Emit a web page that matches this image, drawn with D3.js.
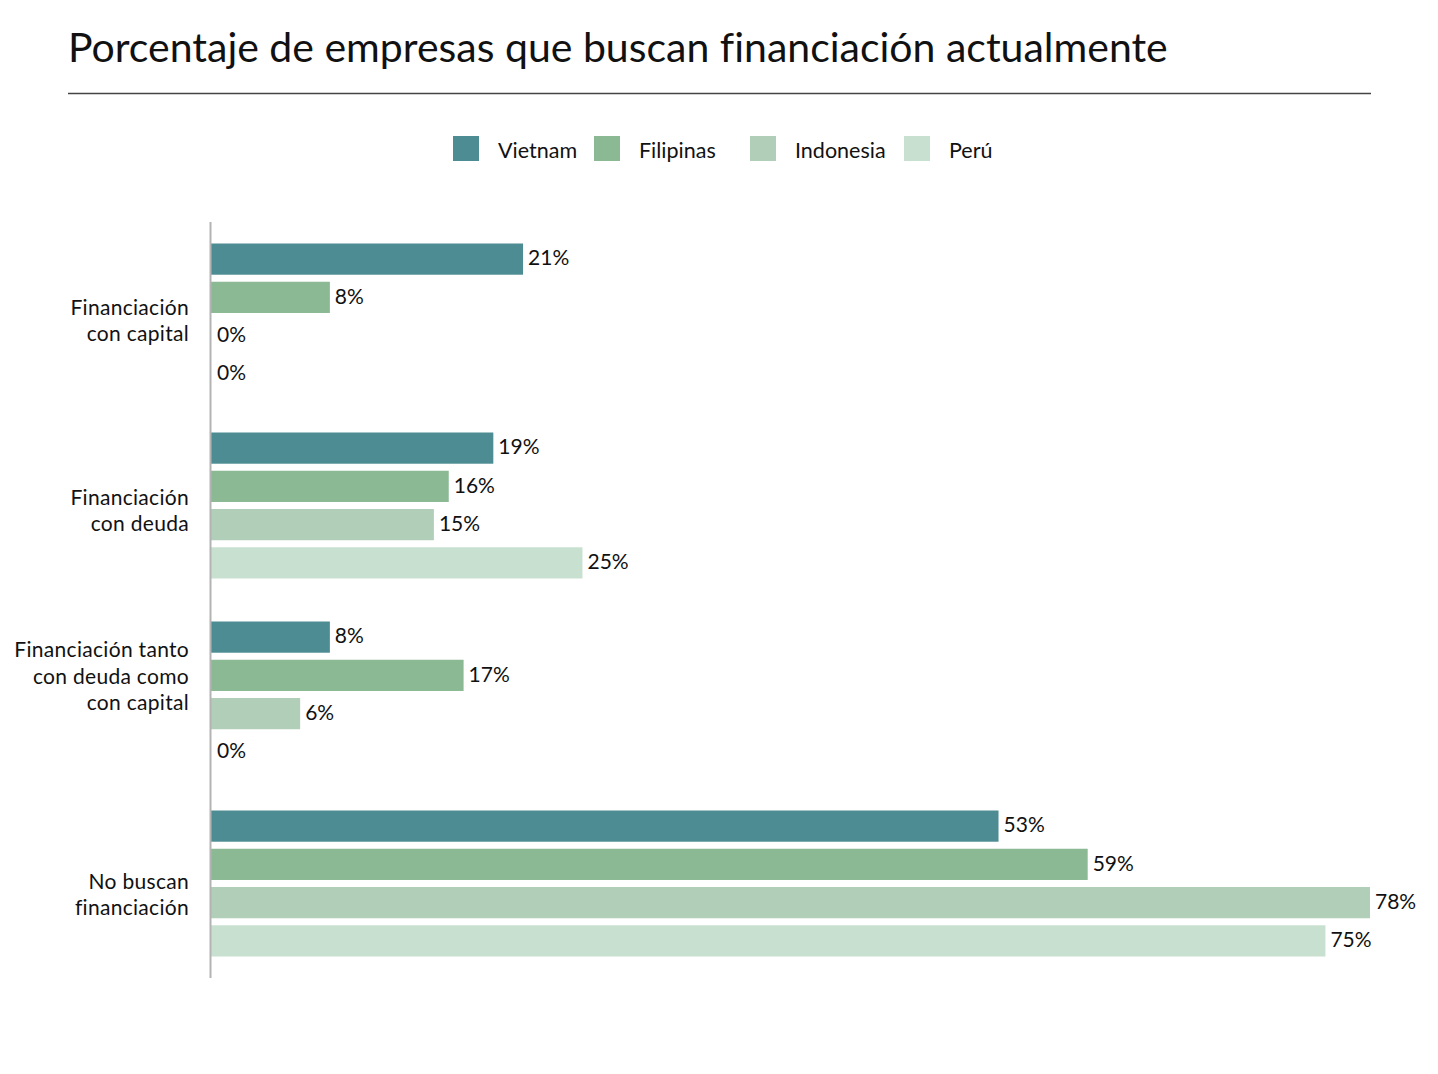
<!DOCTYPE html>
<html><head><meta charset="utf-8">
<script src="https://cdn.jsdelivr.net/npm/d3@7"></script>
<style>body{margin:0;background:#fff;} text{font-family:Lato,"Open Sans",sans-serif;fill:#111;font-variant-ligatures:none;}</style>
</head><body><svg id="c" width="1438" height="1074"></svg>
<script>
const title = "Porcentaje de empresas que buscan financiación actualmente";
const categories = ["Financiación con capital","Financiación con deuda","Financiación tanto con deuda como con capital","No buscan financiación"];
const categoryLines = [["Financiación","con capital"],["Financiación","con deuda"],["Financiación tanto","con deuda como","con capital"],["No buscan","financiación"]];
const series = ["Vietnam","Filipinas","Indonesia","Perú"];
const colors = ["#4e8c93","#8ab993","#b0ceb8","#c8e0d0"];
const vietnam = [21,19,8,53];
const filipinas = [8,16,17,59];
const indonesia = [0,15,6,78];
const peru = [0,25,0,75];
const values = [vietnam, filipinas, indonesia, peru];

const labelShift = [4, 5, -18, 11];

const svg = d3.select("#c");
svg.append("text").attr("x",68).attr("y",62).attr("font-size",41).text(title);
svg.append("line").attr("x1",68).attr("x2",1371).attr("y1",93.5).attr("y2",93.5).attr("stroke","#444").attr("stroke-width",1.3);

// legend
const legX = [453,594,750,904];
series.forEach((s,i)=>{
  svg.append("rect").attr("x",legX[i]).attr("y",136).attr("width",26).attr("height",25).attr("fill",colors[i]);
  svg.append("text").attr("x",legX[i]+45).attr("y",150).attr("dy","0.35em").attr("font-size",21.5).text(s);
});

const x = d3.scaleLinear().domain([0,78]).range([211,1370]);
const y0 = d3.scaleBand().domain(categories).range([222,978]).paddingInner(0.2275).paddingOuter(0.11375);
const y1 = d3.scaleBand().domain(series).range([0,y0.bandwidth()]).paddingInner(0.184).paddingOuter(0);

const g = svg.append("g");
categories.forEach((c,ci)=>{
  const gy = y0(c);
  series.forEach((s,si)=>{
    const v = values[si][ci];
    const by = gy + y1(s);
    g.append("rect").attr("x",x(0)).attr("y",by).attr("width",x(v)-x(0)).attr("height",y1.bandwidth()).attr("fill",colors[si]);
    g.append("text").attr("x",x(v)+ (v>0?5:6)).attr("y",by+y1.bandwidth()/2-1).attr("dy","0.35em").attr("font-size",21).text(v+"%");
  });
  const lines = categoryLines[ci];
  const lh = 26.5;
  const cy = gy + y0.bandwidth()/2 + labelShift[ci] - (lines.length-1)*lh/2;
  lines.forEach((l,li)=>{
    svg.append("text").attr("x",189).attr("y",cy+li*lh).attr("dy","0.35em").attr("text-anchor","end").attr("font-size",21).attr("letter-spacing",0.3).text(l);
  });
});

svg.append("line").attr("x1",210.5).attr("x2",210.5).attr("y1",222).attr("y2",978).attr("stroke","#b3b3b3").attr("stroke-width",2);
</script></body></html>
